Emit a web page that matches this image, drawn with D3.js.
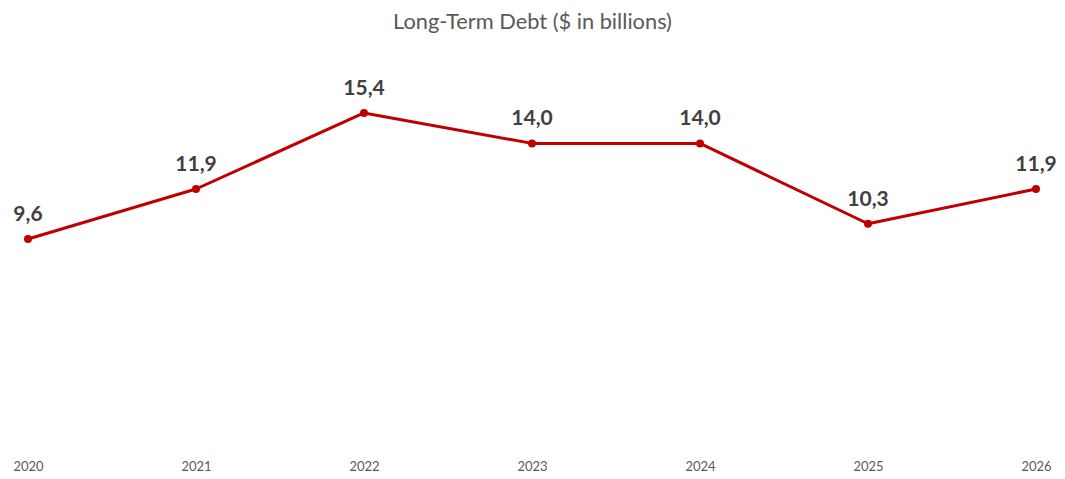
<!DOCTYPE html>
<html>
<head>
<meta charset="utf-8">
<script src="https://cdn.jsdelivr.net/npm/d3@7"></script>
<style>
  html, body { margin: 0; padding: 0; background: #fff; }
  svg { display: block; }
</style>
</head>
<body>
<svg id="chart" width="1065" height="479"></svg>
<script>
// Long-term debt by year, $ in billions
const years = ["2020", "2021", "2022", "2023", "2024", "2025", "2026"];
const debt = [9.6, 11.9, 15.4, 14.0, 14.0, 10.3, 11.9];
const chartTitle = "Long-Term Debt ($ in billions)";

const W = 1065, H = 479;
const svg = d3.select("#chart");
const font = "Lato, 'Open Sans', sans-serif";

const x = d3.scalePoint().domain(years).range([28, 1036]);
const y = d3.scaleLinear().domain([0, 18]).range([447.5, 56.5]);

// Title
svg.append("text")
  .attr("x", W / 2)
  .attr("y", 29)
  .attr("text-anchor", "middle")
  .attr("font-family", font)
  .attr("font-size", 21.8)
  .attr("fill", "#595959")
  .text(chartTitle);

// Category axis labels (no line, no ticks)
const xAxis = d3.axisBottom(x).tickSize(0).tickPadding(0);
const gx = svg.append("g")
  .attr("transform", "translate(0,462)")
  .call(xAxis);
gx.select(".domain").remove();
gx.selectAll("text")
  .attr("font-family", font)
  .attr("font-size", 13)
  .attr("fill", "#595959")
  .attr("dy", "0.71em");

const data = years.map((yr, i) => ({ year: yr, value: debt[i] }));

// Line
svg.append("path")
  .datum(data)
  .attr("fill", "none")
  .attr("stroke", "#C00000")
  .attr("stroke-width", 3)
  .attr("stroke-linejoin", "round")
  .attr("d", d3.line().x(d => x(d.year)).y(d => y(d.value)));

// Markers
svg.selectAll("circle.pt")
  .data(data)
  .join("circle")
  .attr("class", "pt")
  .attr("cx", d => x(d.year))
  .attr("cy", d => y(d.value))
  .attr("r", 4)
  .attr("fill", "#C00000");

// Value labels
const fmt = v => v.toFixed(1).replace(".", ",");
svg.selectAll("text.lbl")
  .data(data)
  .join("text")
  .attr("class", "lbl")
  .attr("x", d => x(d.year))
  .attr("y", d => y(d.value) - 18)
  .attr("text-anchor", "middle")
  .attr("font-family", font)
  .attr("font-weight", "bold")
  .attr("font-size", 21)
  .attr("fill", "#404040")
  .text(d => fmt(d.value));
</script>
</body>
</html>
